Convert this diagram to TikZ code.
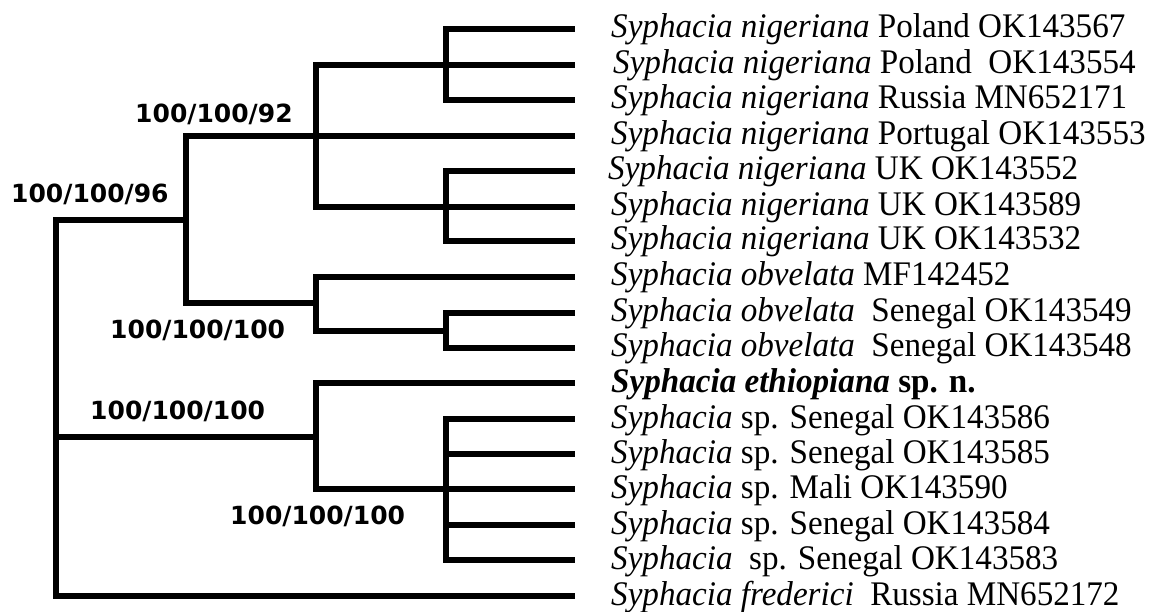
\documentclass[tikz,border=0pt]{standalone}
\usepackage{fontspec}
\setmainfont{Liberation Serif}[FakeStretch=0.96]
\newfontfamily\lblfont{DejaVu Sans}
\begin{document}
\begin{tikzpicture}[x=1pt,y=-1pt,
  branch/.style={line width=5.6pt,line join=miter},
  leaf/.style={anchor=base west,inner sep=0pt,font=\fontsize{34.5}{38}\selectfont},
  supp/.style={anchor=base west,inner sep=0pt,font=\lblfont\bfseries\fontsize{25}{28}\selectfont}]
\useasboundingbox (0,0) rectangle (1149,612);
% internal nodes
\coordinate (r) at (56,437);
\coordinate (A) at (186,220);
\coordinate (C) at (316,136);
\coordinate (P) at (446,65);
\coordinate (U) at (446,207);
\coordinate (O) at (316,303);
\coordinate (Q) at (446,331);
\coordinate (B) at (316,437);
\coordinate (S) at (446,489);
% leaf tips
\foreach \i/\y in {1/29,2/65,3/100,4/136,5/171,6/207,7/241,8/277,9/313,10/348,11/383,12/419,13/454,14/489,15/525,16/560,17/596}
  \coordinate (t\i) at (575,\y);
% leaf labels
\node[leaf] (L1) at (611,38) {\textit{Syphacia nigeriana} Poland OK143567};
\node[leaf] (L2) at (613,74) {\textit{Syphacia nigeriana} Poland\ \ OK143554};
\node[leaf] (L3) at (611,109) {\textit{Syphacia nigeriana} Russia MN652171};
\node[leaf] (L4) at (611,145) {\textit{Syphacia nigeriana} Portugal OK143553};
\node[leaf] (L5) at (608,180) {\textit{Syphacia nigeriana} UK OK143552};
\node[leaf] (L6) at (611,216) {\textit{Syphacia nigeriana} UK OK143589};
\node[leaf] (L7) at (611,250) {\textit{Syphacia nigeriana} UK OK143532};
\node[leaf] (L8) at (611,286) {\textit{Syphacia obvelata} MF142452};
\node[leaf] (L9) at (611,322) {\textit{Syphacia obvelata}\ \ Senegal OK143549};
\node[leaf] (L10) at (611,357) {\textit{Syphacia obvelata}\ \ Senegal OK143548};
\node[leaf] (L11) at (611,392) {\textbf{\textit{Syphacia ethiopiana} sp. n.}};
\node[leaf] (L12) at (611,428) {\textit{Syphacia} sp. Senegal OK143586};
\node[leaf] (L13) at (611,463) {\textit{Syphacia} sp. Senegal OK143585};
\node[leaf] (L14) at (611,498) {\textit{Syphacia} sp. Mali OK143590};
\node[leaf] (L15) at (611,534) {\textit{Syphacia} sp. Senegal OK143584};
\node[leaf] (L16) at (611,569) {\textit{Syphacia}\ \ sp. Senegal OK143583};
\node[leaf] (L17) at (611,605) {\textit{Syphacia frederici}\ \ Russia MN652172};
% support values
\node[supp] (s96) at (11,203) {100/100/96};
\node[supp] (s92) at (135,123) {100/100/92};
\node[supp] (sob) at (110,339) {100/100/100};
\node[supp] (sB) at (90,419) {100/100/100};
\node[supp] (sS) at (230,524) {100/100/100};
% branches
\draw[branch] (r) |- (A);
\draw[branch] (r) |- (B);
\draw[branch] (r) |- (t17);
\draw[branch] (A) |- (C);
\draw[branch] (A) |- (O);
\draw[branch] (C) |- (P);
\draw[branch] (C) |- (t4);
\draw[branch] (C) |- (U);
\draw[branch] (P) |- (t1);
\draw[branch] (P) |- (t2);
\draw[branch] (P) |- (t3);
\draw[branch] (U) |- (t5);
\draw[branch] (U) |- (t6);
\draw[branch] (U) |- (t7);
\draw[branch] (O) |- (t8);
\draw[branch] (O) |- (Q);
\draw[branch] (Q) |- (t9);
\draw[branch] (Q) |- (t10);
\draw[branch] (B) |- (t11);
\draw[branch] (B) |- (S);
\foreach \i in {12,...,16} \draw[branch] (S) |- (t\i);
\end{tikzpicture}
\end{document}
